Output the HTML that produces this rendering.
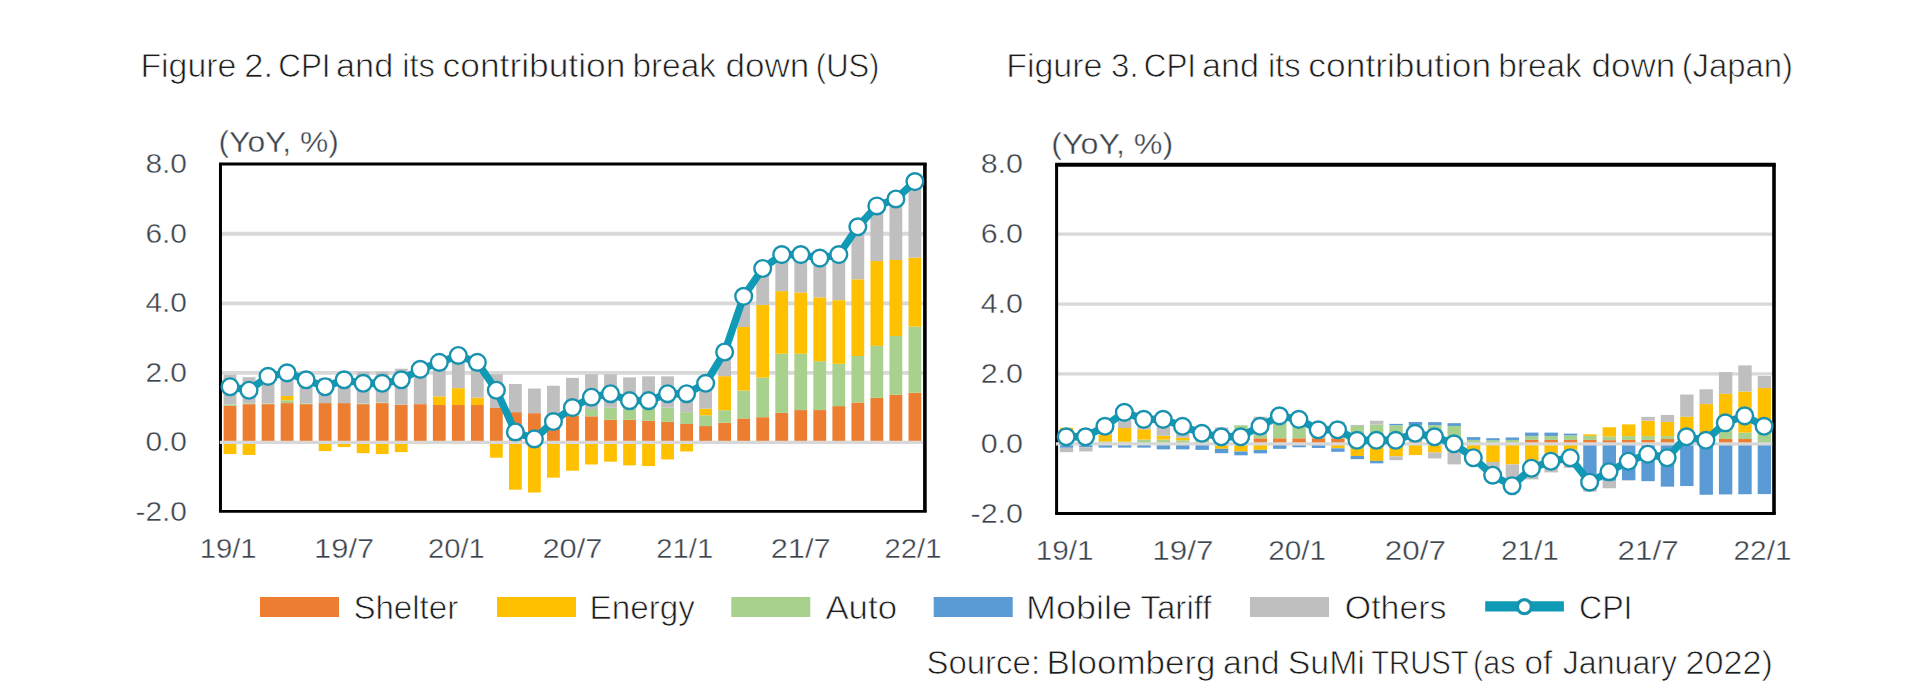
<!DOCTYPE html>
<html lang="en"><head><meta charset="utf-8"><title>CPI and its contribution break down</title>
<style>
html,body{margin:0;padding:0;background:#fff;}
body{width:1920px;height:698px;overflow:hidden;}
svg{display:block;}
text{font-family:"Liberation Sans",Arial,Helvetica,sans-serif;}
.ti{font-size:34px;fill:#1c1c1c;stroke:#fff;stroke-width:0.75px;}
.ax{font-size:27px;fill:#3A424B;stroke:#fff;stroke-width:0.4px;}
.un{font-size:29px;fill:#3A424B;stroke:#fff;stroke-width:0.4px;}
.lg{font-size:34px;fill:#1c1c1c;stroke:#fff;stroke-width:0.75px;}
.src{font-size:33.6px;fill:#1c1c1c;stroke:#fff;stroke-width:0.75px;}
</style></head><body>
<svg width="1920" height="698" viewBox="0 0 1920 698">
<rect width="1920" height="698" fill="#fff"/>
<text y="77.0" class="ti"><tspan x="140.39" textLength="95.93" lengthAdjust="spacingAndGlyphs">Figure</tspan> <tspan x="244.28" textLength="28.75" lengthAdjust="spacingAndGlyphs">2.</tspan> <tspan x="278.23" textLength="52.33" lengthAdjust="spacingAndGlyphs">CPI</tspan> <tspan x="336.03" textLength="57.20" lengthAdjust="spacingAndGlyphs">and</tspan> <tspan x="402.14" textLength="32.64" lengthAdjust="spacingAndGlyphs">its</tspan> <tspan x="442.59" textLength="182.80" lengthAdjust="spacingAndGlyphs">contribution</tspan> <tspan x="632.40" textLength="83.57" lengthAdjust="spacingAndGlyphs">break</tspan> <tspan x="725.50" textLength="83.87" lengthAdjust="spacingAndGlyphs">down</tspan> <tspan x="815.84" textLength="63.60" lengthAdjust="spacingAndGlyphs">(US)</tspan></text>
<text y="77.0" class="ti"><tspan x="1006.18" textLength="96.24" lengthAdjust="spacingAndGlyphs">Figure</tspan> <tspan x="1111.11" textLength="27.48" lengthAdjust="spacingAndGlyphs">3.</tspan> <tspan x="1143.73" textLength="52.33" lengthAdjust="spacingAndGlyphs">CPI</tspan> <tspan x="1202.13" textLength="56.98" lengthAdjust="spacingAndGlyphs">and</tspan> <tspan x="1267.94" textLength="32.64" lengthAdjust="spacingAndGlyphs">its</tspan> <tspan x="1308.39" textLength="182.80" lengthAdjust="spacingAndGlyphs">contribution</tspan> <tspan x="1498.20" textLength="83.57" lengthAdjust="spacingAndGlyphs">break</tspan> <tspan x="1591.50" textLength="83.87" lengthAdjust="spacingAndGlyphs">down</tspan> <tspan x="1681.63" textLength="111.31" lengthAdjust="spacingAndGlyphs">(Japan)</tspan></text>
<g id="c1">
<line x1="220.47" x2="924.9" y1="233.75" y2="233.75" stroke="#D8D8D8" stroke-width="3.8"/>
<line x1="220.47" x2="924.9" y1="303.30" y2="303.30" stroke="#D8D8D8" stroke-width="3.8"/>
<line x1="220.47" x2="924.9" y1="372.85" y2="372.85" stroke="#D8D8D8" stroke-width="3.8"/>
<rect x="223.60" y="405.89" width="12.8" height="36.51" fill="#ED7D31"/>
<rect x="223.60" y="404.50" width="12.8" height="1.39" fill="#A9D18E"/>
<rect x="223.60" y="442.40" width="12.8" height="11.65" fill="#FFC000"/>
<rect x="223.60" y="374.59" width="12.8" height="29.91" fill="#BFBFBF"/>
<rect x="242.63" y="404.15" width="12.8" height="38.25" fill="#ED7D31"/>
<rect x="242.63" y="403.45" width="12.8" height="0.70" fill="#A9D18E"/>
<rect x="242.63" y="442.40" width="12.8" height="12.52" fill="#FFC000"/>
<rect x="242.63" y="377.20" width="12.8" height="26.26" fill="#BFBFBF"/>
<rect x="261.65" y="404.15" width="12.8" height="38.25" fill="#ED7D31"/>
<rect x="261.65" y="403.45" width="12.8" height="0.70" fill="#A9D18E"/>
<rect x="261.65" y="376.33" width="12.8" height="27.12" fill="#BFBFBF"/>
<rect x="280.68" y="403.10" width="12.8" height="39.30" fill="#ED7D31"/>
<rect x="280.68" y="400.32" width="12.8" height="2.78" fill="#A9D18E"/>
<rect x="280.68" y="395.98" width="12.8" height="4.35" fill="#FFC000"/>
<rect x="280.68" y="372.85" width="12.8" height="23.13" fill="#BFBFBF"/>
<rect x="299.70" y="404.15" width="12.8" height="38.25" fill="#ED7D31"/>
<rect x="299.70" y="403.45" width="12.8" height="0.70" fill="#A9D18E"/>
<rect x="299.70" y="379.80" width="12.8" height="23.65" fill="#BFBFBF"/>
<rect x="318.73" y="403.10" width="12.8" height="39.30" fill="#ED7D31"/>
<rect x="318.73" y="442.40" width="12.8" height="8.69" fill="#FFC000"/>
<rect x="318.73" y="378.07" width="12.8" height="25.04" fill="#BFBFBF"/>
<rect x="337.75" y="403.10" width="12.8" height="39.30" fill="#ED7D31"/>
<rect x="337.75" y="442.40" width="12.8" height="4.69" fill="#FFC000"/>
<rect x="337.75" y="375.11" width="12.8" height="27.99" fill="#BFBFBF"/>
<rect x="356.78" y="404.15" width="12.8" height="38.25" fill="#ED7D31"/>
<rect x="356.78" y="403.45" width="12.8" height="0.70" fill="#A9D18E"/>
<rect x="356.78" y="442.40" width="12.8" height="10.78" fill="#FFC000"/>
<rect x="356.78" y="371.81" width="12.8" height="31.65" fill="#BFBFBF"/>
<rect x="375.80" y="403.10" width="12.8" height="39.30" fill="#ED7D31"/>
<rect x="375.80" y="402.41" width="12.8" height="0.70" fill="#A9D18E"/>
<rect x="375.80" y="442.40" width="12.8" height="11.65" fill="#FFC000"/>
<rect x="375.80" y="371.63" width="12.8" height="30.78" fill="#BFBFBF"/>
<rect x="394.83" y="404.67" width="12.8" height="37.73" fill="#ED7D31"/>
<rect x="394.83" y="442.40" width="12.8" height="9.74" fill="#FFC000"/>
<rect x="394.83" y="368.68" width="12.8" height="35.99" fill="#BFBFBF"/>
<rect x="413.85" y="404.15" width="12.8" height="38.25" fill="#ED7D31"/>
<rect x="413.85" y="442.40" width="12.8" height="1.74" fill="#FFC000"/>
<rect x="413.85" y="367.63" width="12.8" height="36.51" fill="#BFBFBF"/>
<rect x="432.88" y="405.02" width="12.8" height="37.38" fill="#ED7D31"/>
<rect x="432.88" y="396.32" width="12.8" height="8.69" fill="#FFC000"/>
<rect x="432.88" y="362.42" width="12.8" height="33.91" fill="#BFBFBF"/>
<rect x="451.90" y="405.02" width="12.8" height="37.38" fill="#ED7D31"/>
<rect x="451.90" y="442.40" width="12.8" height="1.74" fill="#A9D18E"/>
<rect x="451.90" y="388.15" width="12.8" height="16.87" fill="#FFC000"/>
<rect x="451.90" y="353.72" width="12.8" height="34.43" fill="#BFBFBF"/>
<rect x="470.93" y="405.02" width="12.8" height="37.38" fill="#ED7D31"/>
<rect x="470.93" y="397.54" width="12.8" height="7.48" fill="#FFC000"/>
<rect x="470.93" y="362.42" width="12.8" height="35.12" fill="#BFBFBF"/>
<rect x="489.95" y="407.97" width="12.8" height="34.43" fill="#ED7D31"/>
<rect x="489.95" y="442.40" width="12.8" height="15.30" fill="#FFC000"/>
<rect x="489.95" y="374.24" width="12.8" height="33.73" fill="#BFBFBF"/>
<rect x="508.98" y="412.15" width="12.8" height="30.25" fill="#ED7D31"/>
<rect x="508.98" y="442.40" width="12.8" height="47.29" fill="#FFC000"/>
<rect x="508.98" y="383.98" width="12.8" height="28.17" fill="#BFBFBF"/>
<rect x="528.00" y="413.19" width="12.8" height="29.21" fill="#ED7D31"/>
<rect x="528.00" y="442.40" width="12.8" height="50.08" fill="#FFC000"/>
<rect x="528.00" y="388.50" width="12.8" height="24.69" fill="#BFBFBF"/>
<rect x="547.03" y="414.58" width="12.8" height="27.82" fill="#ED7D31"/>
<rect x="547.03" y="442.40" width="12.8" height="35.30" fill="#FFC000"/>
<rect x="547.03" y="385.72" width="12.8" height="28.86" fill="#BFBFBF"/>
<rect x="566.05" y="415.97" width="12.8" height="26.43" fill="#ED7D31"/>
<rect x="566.05" y="414.23" width="12.8" height="1.74" fill="#A9D18E"/>
<rect x="566.05" y="442.40" width="12.8" height="28.34" fill="#FFC000"/>
<rect x="566.05" y="377.89" width="12.8" height="36.34" fill="#BFBFBF"/>
<rect x="585.08" y="416.32" width="12.8" height="26.08" fill="#ED7D31"/>
<rect x="585.08" y="409.02" width="12.8" height="7.30" fill="#A9D18E"/>
<rect x="585.08" y="442.40" width="12.8" height="22.08" fill="#FFC000"/>
<rect x="585.08" y="374.24" width="12.8" height="34.77" fill="#BFBFBF"/>
<rect x="604.10" y="419.80" width="12.8" height="22.60" fill="#ED7D31"/>
<rect x="604.10" y="407.62" width="12.8" height="12.17" fill="#A9D18E"/>
<rect x="604.10" y="442.40" width="12.8" height="19.30" fill="#FFC000"/>
<rect x="604.10" y="374.24" width="12.8" height="33.38" fill="#BFBFBF"/>
<rect x="623.13" y="419.80" width="12.8" height="22.60" fill="#ED7D31"/>
<rect x="623.13" y="409.02" width="12.8" height="10.78" fill="#A9D18E"/>
<rect x="623.13" y="442.40" width="12.8" height="22.95" fill="#FFC000"/>
<rect x="623.13" y="377.37" width="12.8" height="31.65" fill="#BFBFBF"/>
<rect x="642.15" y="420.84" width="12.8" height="21.56" fill="#ED7D31"/>
<rect x="642.15" y="409.02" width="12.8" height="11.82" fill="#A9D18E"/>
<rect x="642.15" y="442.40" width="12.8" height="23.65" fill="#FFC000"/>
<rect x="642.15" y="376.33" width="12.8" height="32.69" fill="#BFBFBF"/>
<rect x="661.18" y="421.88" width="12.8" height="20.52" fill="#ED7D31"/>
<rect x="661.18" y="407.62" width="12.8" height="14.26" fill="#A9D18E"/>
<rect x="661.18" y="442.40" width="12.8" height="17.04" fill="#FFC000"/>
<rect x="661.18" y="376.33" width="12.8" height="31.30" fill="#BFBFBF"/>
<rect x="680.20" y="423.97" width="12.8" height="18.43" fill="#ED7D31"/>
<rect x="680.20" y="412.15" width="12.8" height="11.82" fill="#A9D18E"/>
<rect x="680.20" y="442.40" width="12.8" height="9.04" fill="#FFC000"/>
<rect x="680.20" y="387.46" width="12.8" height="24.69" fill="#BFBFBF"/>
<rect x="699.23" y="426.06" width="12.8" height="16.34" fill="#ED7D31"/>
<rect x="699.23" y="415.28" width="12.8" height="10.78" fill="#A9D18E"/>
<rect x="699.23" y="408.67" width="12.8" height="6.61" fill="#FFC000"/>
<rect x="699.23" y="383.28" width="12.8" height="25.39" fill="#BFBFBF"/>
<rect x="718.25" y="422.75" width="12.8" height="19.65" fill="#ED7D31"/>
<rect x="718.25" y="410.23" width="12.8" height="12.52" fill="#A9D18E"/>
<rect x="718.25" y="376.15" width="12.8" height="34.08" fill="#FFC000"/>
<rect x="718.25" y="351.98" width="12.8" height="24.17" fill="#BFBFBF"/>
<rect x="737.28" y="418.41" width="12.8" height="23.99" fill="#ED7D31"/>
<rect x="737.28" y="390.59" width="12.8" height="27.82" fill="#A9D18E"/>
<rect x="737.28" y="326.95" width="12.8" height="63.64" fill="#FFC000"/>
<rect x="737.28" y="296.34" width="12.8" height="30.60" fill="#BFBFBF"/>
<rect x="756.30" y="417.19" width="12.8" height="25.21" fill="#ED7D31"/>
<rect x="756.30" y="377.54" width="12.8" height="39.64" fill="#A9D18E"/>
<rect x="756.30" y="304.86" width="12.8" height="72.68" fill="#FFC000"/>
<rect x="756.30" y="268.52" width="12.8" height="36.34" fill="#BFBFBF"/>
<rect x="775.33" y="412.84" width="12.8" height="29.56" fill="#ED7D31"/>
<rect x="775.33" y="353.72" width="12.8" height="59.12" fill="#A9D18E"/>
<rect x="775.33" y="291.13" width="12.8" height="62.59" fill="#FFC000"/>
<rect x="775.33" y="254.61" width="12.8" height="36.51" fill="#BFBFBF"/>
<rect x="794.35" y="410.06" width="12.8" height="32.34" fill="#ED7D31"/>
<rect x="794.35" y="353.72" width="12.8" height="56.34" fill="#A9D18E"/>
<rect x="794.35" y="292.52" width="12.8" height="61.20" fill="#FFC000"/>
<rect x="794.35" y="254.61" width="12.8" height="37.90" fill="#BFBFBF"/>
<rect x="813.38" y="410.06" width="12.8" height="32.34" fill="#ED7D31"/>
<rect x="813.38" y="361.20" width="12.8" height="48.86" fill="#A9D18E"/>
<rect x="813.38" y="297.39" width="12.8" height="63.81" fill="#FFC000"/>
<rect x="813.38" y="258.09" width="12.8" height="39.30" fill="#BFBFBF"/>
<rect x="832.40" y="406.13" width="12.8" height="36.27" fill="#ED7D31"/>
<rect x="832.40" y="363.81" width="12.8" height="42.32" fill="#A9D18E"/>
<rect x="832.40" y="300.17" width="12.8" height="63.64" fill="#FFC000"/>
<rect x="832.40" y="254.61" width="12.8" height="45.56" fill="#BFBFBF"/>
<rect x="851.43" y="402.51" width="12.8" height="39.89" fill="#ED7D31"/>
<rect x="851.43" y="355.98" width="12.8" height="46.53" fill="#A9D18E"/>
<rect x="851.43" y="279.31" width="12.8" height="76.68" fill="#FFC000"/>
<rect x="851.43" y="226.79" width="12.8" height="52.51" fill="#BFBFBF"/>
<rect x="870.45" y="397.89" width="12.8" height="44.51" fill="#ED7D31"/>
<rect x="870.45" y="345.90" width="12.8" height="51.99" fill="#A9D18E"/>
<rect x="870.45" y="261.05" width="12.8" height="84.85" fill="#FFC000"/>
<rect x="870.45" y="205.93" width="12.8" height="55.12" fill="#BFBFBF"/>
<rect x="889.48" y="394.76" width="12.8" height="47.64" fill="#ED7D31"/>
<rect x="889.48" y="335.99" width="12.8" height="58.77" fill="#A9D18E"/>
<rect x="889.48" y="260.01" width="12.8" height="75.98" fill="#FFC000"/>
<rect x="889.48" y="198.97" width="12.8" height="61.03" fill="#BFBFBF"/>
<rect x="908.50" y="392.67" width="12.8" height="49.73" fill="#ED7D31"/>
<rect x="908.50" y="326.60" width="12.8" height="66.07" fill="#A9D18E"/>
<rect x="908.50" y="257.57" width="12.8" height="69.03" fill="#FFC000"/>
<rect x="908.50" y="181.59" width="12.8" height="75.98" fill="#BFBFBF"/>
<line x1="218.97" x2="926.6999999999999" y1="163.95" y2="163.95" stroke="#000" stroke-width="3.0"/>
<line x1="218.97" x2="926.6999999999999" y1="511.4" y2="511.4" stroke="#000" stroke-width="2.8"/>
<line x1="220.47" x2="220.47" y1="163.95" y2="511.4" stroke="#000" stroke-width="3.0"/>
<line x1="924.9" x2="924.9" y1="163.95" y2="511.4" stroke="#000" stroke-width="3.6"/>
<line x1="219.77" x2="923.1" y1="442.40" y2="442.40" stroke="#D8D8D8" stroke-width="3.2"/>
<polyline fill="none" stroke="#0F9AB5" stroke-width="7.4" stroke-linejoin="round" points="230.00,386.76 249.03,390.24 268.05,376.33 287.08,372.85 306.10,379.80 325.13,386.76 344.15,379.80 363.18,383.28 382.20,383.28 401.23,379.80 420.25,369.37 439.28,362.42 458.30,355.46 477.33,362.42 496.35,390.24 515.38,431.97 534.40,438.92 553.43,421.53 572.45,407.62 591.48,397.19 610.50,393.71 629.53,400.67 648.55,400.67 667.58,393.71 686.60,393.71 705.63,383.28 724.65,351.98 743.68,296.34 762.70,268.52 781.73,254.61 800.75,254.61 819.78,258.09 838.80,254.61 857.83,226.79 876.85,205.93 895.88,198.97 914.90,181.59"/>
<circle cx="230.00" cy="386.76" r="8.35" fill="#fff" stroke="#1892AE" stroke-width="2.4"/>
<circle cx="249.03" cy="390.24" r="8.35" fill="#fff" stroke="#1892AE" stroke-width="2.4"/>
<circle cx="268.05" cy="376.33" r="8.35" fill="#fff" stroke="#1892AE" stroke-width="2.4"/>
<circle cx="287.08" cy="372.85" r="8.35" fill="#fff" stroke="#1892AE" stroke-width="2.4"/>
<circle cx="306.10" cy="379.80" r="8.35" fill="#fff" stroke="#1892AE" stroke-width="2.4"/>
<circle cx="325.13" cy="386.76" r="8.35" fill="#fff" stroke="#1892AE" stroke-width="2.4"/>
<circle cx="344.15" cy="379.80" r="8.35" fill="#fff" stroke="#1892AE" stroke-width="2.4"/>
<circle cx="363.18" cy="383.28" r="8.35" fill="#fff" stroke="#1892AE" stroke-width="2.4"/>
<circle cx="382.20" cy="383.28" r="8.35" fill="#fff" stroke="#1892AE" stroke-width="2.4"/>
<circle cx="401.23" cy="379.80" r="8.35" fill="#fff" stroke="#1892AE" stroke-width="2.4"/>
<circle cx="420.25" cy="369.37" r="8.35" fill="#fff" stroke="#1892AE" stroke-width="2.4"/>
<circle cx="439.28" cy="362.42" r="8.35" fill="#fff" stroke="#1892AE" stroke-width="2.4"/>
<circle cx="458.30" cy="355.46" r="8.35" fill="#fff" stroke="#1892AE" stroke-width="2.4"/>
<circle cx="477.33" cy="362.42" r="8.35" fill="#fff" stroke="#1892AE" stroke-width="2.4"/>
<circle cx="496.35" cy="390.24" r="8.35" fill="#fff" stroke="#1892AE" stroke-width="2.4"/>
<circle cx="515.38" cy="431.97" r="8.35" fill="#fff" stroke="#1892AE" stroke-width="2.4"/>
<circle cx="534.40" cy="438.92" r="8.35" fill="#fff" stroke="#1892AE" stroke-width="2.4"/>
<circle cx="553.43" cy="421.53" r="8.35" fill="#fff" stroke="#1892AE" stroke-width="2.4"/>
<circle cx="572.45" cy="407.62" r="8.35" fill="#fff" stroke="#1892AE" stroke-width="2.4"/>
<circle cx="591.48" cy="397.19" r="8.35" fill="#fff" stroke="#1892AE" stroke-width="2.4"/>
<circle cx="610.50" cy="393.71" r="8.35" fill="#fff" stroke="#1892AE" stroke-width="2.4"/>
<circle cx="629.53" cy="400.67" r="8.35" fill="#fff" stroke="#1892AE" stroke-width="2.4"/>
<circle cx="648.55" cy="400.67" r="8.35" fill="#fff" stroke="#1892AE" stroke-width="2.4"/>
<circle cx="667.58" cy="393.71" r="8.35" fill="#fff" stroke="#1892AE" stroke-width="2.4"/>
<circle cx="686.60" cy="393.71" r="8.35" fill="#fff" stroke="#1892AE" stroke-width="2.4"/>
<circle cx="705.63" cy="383.28" r="8.35" fill="#fff" stroke="#1892AE" stroke-width="2.4"/>
<circle cx="724.65" cy="351.98" r="8.35" fill="#fff" stroke="#1892AE" stroke-width="2.4"/>
<circle cx="743.68" cy="296.34" r="8.35" fill="#fff" stroke="#1892AE" stroke-width="2.4"/>
<circle cx="762.70" cy="268.52" r="8.35" fill="#fff" stroke="#1892AE" stroke-width="2.4"/>
<circle cx="781.73" cy="254.61" r="8.35" fill="#fff" stroke="#1892AE" stroke-width="2.4"/>
<circle cx="800.75" cy="254.61" r="8.35" fill="#fff" stroke="#1892AE" stroke-width="2.4"/>
<circle cx="819.78" cy="258.09" r="8.35" fill="#fff" stroke="#1892AE" stroke-width="2.4"/>
<circle cx="838.80" cy="254.61" r="8.35" fill="#fff" stroke="#1892AE" stroke-width="2.4"/>
<circle cx="857.83" cy="226.79" r="8.35" fill="#fff" stroke="#1892AE" stroke-width="2.4"/>
<circle cx="876.85" cy="205.93" r="8.35" fill="#fff" stroke="#1892AE" stroke-width="2.4"/>
<circle cx="895.88" cy="198.97" r="8.35" fill="#fff" stroke="#1892AE" stroke-width="2.4"/>
<circle cx="914.90" cy="181.59" r="8.35" fill="#fff" stroke="#1892AE" stroke-width="2.4"/>
<text transform="translate(187.0 173.20) scale(1.08 1)" text-anchor="end" class="ax" style="font-size:27.7px">8.0</text>
<text transform="translate(187.0 242.75) scale(1.08 1)" text-anchor="end" class="ax" style="font-size:27.7px">6.0</text>
<text transform="translate(187.0 312.30) scale(1.08 1)" text-anchor="end" class="ax" style="font-size:27.7px">4.0</text>
<text transform="translate(187.0 381.85) scale(1.08 1)" text-anchor="end" class="ax" style="font-size:27.7px">2.0</text>
<text transform="translate(187.0 451.40) scale(1.08 1)" text-anchor="end" class="ax" style="font-size:27.7px">0.0</text>
<text transform="translate(187.0 520.95) scale(1.08 1)" text-anchor="end" class="ax" style="font-size:27.7px">-2.0</text>
<text transform="translate(228.10 557.8) scale(1.055 1)" text-anchor="middle" class="ax" style="font-size:27.7px">19/1</text>
<text transform="translate(344.15 557.8) scale(1.115 1)" text-anchor="middle" class="ax" style="font-size:27.7px">19/7</text>
<text transform="translate(456.40 557.8) scale(1.055 1)" text-anchor="middle" class="ax" style="font-size:27.7px">20/1</text>
<text transform="translate(572.45 557.8) scale(1.115 1)" text-anchor="middle" class="ax" style="font-size:27.7px">20/7</text>
<text transform="translate(684.70 557.8) scale(1.055 1)" text-anchor="middle" class="ax" style="font-size:27.7px">21/1</text>
<text transform="translate(800.75 557.8) scale(1.115 1)" text-anchor="middle" class="ax" style="font-size:27.7px">21/7</text>
<text transform="translate(913.00 557.8) scale(1.055 1)" text-anchor="middle" class="ax" style="font-size:27.7px">22/1</text>
<text transform="translate(218.5 152.4) scale(1.065 1)" class="un" style="font-size:29.9px">(YoY, %)</text>
</g>
<g id="c2">
<line x1="1056.6" x2="1774.0" y1="234.20" y2="234.20" stroke="#D8D8D8" stroke-width="3.3"/>
<line x1="1056.6" x2="1774.0" y1="304.06" y2="304.06" stroke="#D8D8D8" stroke-width="3.3"/>
<line x1="1056.6" x2="1774.0" y1="373.92" y2="373.92" stroke="#D8D8D8" stroke-width="3.3"/>
<rect x="1059.79" y="441.68" width="13.4" height="2.10" fill="#A9D18E"/>
<rect x="1059.79" y="427.71" width="13.4" height="13.97" fill="#FFC000"/>
<rect x="1059.79" y="443.78" width="13.4" height="4.02" fill="#5B9BD5"/>
<rect x="1059.79" y="447.80" width="13.4" height="4.37" fill="#BFBFBF"/>
<rect x="1079.18" y="441.68" width="13.4" height="2.10" fill="#A9D18E"/>
<rect x="1079.18" y="429.11" width="13.4" height="12.57" fill="#FFC000"/>
<rect x="1079.18" y="443.78" width="13.4" height="3.49" fill="#5B9BD5"/>
<rect x="1079.18" y="447.27" width="13.4" height="4.19" fill="#BFBFBF"/>
<rect x="1098.56" y="441.33" width="13.4" height="2.45" fill="#A9D18E"/>
<rect x="1098.56" y="434.35" width="13.4" height="6.99" fill="#FFC000"/>
<rect x="1098.56" y="422.47" width="13.4" height="11.88" fill="#BFBFBF"/>
<rect x="1098.56" y="443.78" width="13.4" height="3.84" fill="#5B9BD5"/>
<rect x="1117.95" y="441.68" width="13.4" height="2.10" fill="#A9D18E"/>
<rect x="1117.95" y="428.06" width="13.4" height="13.62" fill="#FFC000"/>
<rect x="1117.95" y="408.50" width="13.4" height="19.56" fill="#BFBFBF"/>
<rect x="1117.95" y="443.78" width="13.4" height="3.84" fill="#5B9BD5"/>
<rect x="1137.34" y="439.59" width="13.4" height="4.19" fill="#A9D18E"/>
<rect x="1137.34" y="429.28" width="13.4" height="10.30" fill="#FFC000"/>
<rect x="1137.34" y="415.49" width="13.4" height="13.80" fill="#BFBFBF"/>
<rect x="1137.34" y="443.78" width="13.4" height="3.84" fill="#5B9BD5"/>
<rect x="1156.72" y="439.59" width="13.4" height="4.19" fill="#A9D18E"/>
<rect x="1156.72" y="435.75" width="13.4" height="3.84" fill="#FFC000"/>
<rect x="1156.72" y="413.74" width="13.4" height="22.01" fill="#BFBFBF"/>
<rect x="1156.72" y="443.78" width="13.4" height="5.59" fill="#5B9BD5"/>
<rect x="1176.11" y="440.29" width="13.4" height="3.49" fill="#A9D18E"/>
<rect x="1176.11" y="437.84" width="13.4" height="2.45" fill="#FFC000"/>
<rect x="1176.11" y="420.73" width="13.4" height="17.12" fill="#BFBFBF"/>
<rect x="1176.11" y="443.78" width="13.4" height="5.59" fill="#5B9BD5"/>
<rect x="1195.49" y="440.29" width="13.4" height="3.49" fill="#A9D18E"/>
<rect x="1195.49" y="438.54" width="13.4" height="1.75" fill="#FFC000"/>
<rect x="1195.49" y="427.19" width="13.4" height="11.35" fill="#BFBFBF"/>
<rect x="1195.49" y="443.78" width="13.4" height="6.11" fill="#5B9BD5"/>
<rect x="1214.88" y="438.54" width="13.4" height="5.24" fill="#A9D18E"/>
<rect x="1214.88" y="427.36" width="13.4" height="11.18" fill="#BFBFBF"/>
<rect x="1214.88" y="443.78" width="13.4" height="5.06" fill="#FFC000"/>
<rect x="1214.88" y="448.84" width="13.4" height="4.37" fill="#5B9BD5"/>
<rect x="1234.27" y="436.79" width="13.4" height="6.99" fill="#BFBFBF"/>
<rect x="1234.27" y="425.27" width="13.4" height="11.53" fill="#A9D18E"/>
<rect x="1234.27" y="443.78" width="13.4" height="7.68" fill="#FFC000"/>
<rect x="1234.27" y="451.46" width="13.4" height="3.84" fill="#5B9BD5"/>
<rect x="1253.65" y="438.30" width="13.4" height="5.48" fill="#ED7D31"/>
<rect x="1253.65" y="435.15" width="13.4" height="3.14" fill="#A9D18E"/>
<rect x="1253.65" y="416.71" width="13.4" height="18.44" fill="#BFBFBF"/>
<rect x="1253.65" y="443.78" width="13.4" height="6.11" fill="#FFC000"/>
<rect x="1253.65" y="449.89" width="13.4" height="3.49" fill="#5B9BD5"/>
<rect x="1273.04" y="438.30" width="13.4" height="5.48" fill="#ED7D31"/>
<rect x="1273.04" y="422.58" width="13.4" height="15.72" fill="#A9D18E"/>
<rect x="1273.04" y="410.77" width="13.4" height="11.81" fill="#BFBFBF"/>
<rect x="1273.04" y="443.78" width="13.4" height="5.06" fill="#5B9BD5"/>
<rect x="1292.42" y="438.30" width="13.4" height="5.48" fill="#ED7D31"/>
<rect x="1292.42" y="424.32" width="13.4" height="13.97" fill="#A9D18E"/>
<rect x="1292.42" y="415.84" width="13.4" height="8.49" fill="#BFBFBF"/>
<rect x="1292.42" y="443.78" width="13.4" height="3.49" fill="#5B9BD5"/>
<rect x="1311.81" y="438.30" width="13.4" height="5.48" fill="#ED7D31"/>
<rect x="1311.81" y="429.56" width="13.4" height="8.73" fill="#A9D18E"/>
<rect x="1311.81" y="425.62" width="13.4" height="3.95" fill="#BFBFBF"/>
<rect x="1311.81" y="443.78" width="13.4" height="4.19" fill="#5B9BD5"/>
<rect x="1331.20" y="438.30" width="13.4" height="5.48" fill="#ED7D31"/>
<rect x="1331.20" y="427.82" width="13.4" height="10.48" fill="#A9D18E"/>
<rect x="1331.20" y="421.77" width="13.4" height="6.04" fill="#BFBFBF"/>
<rect x="1331.20" y="443.78" width="13.4" height="4.54" fill="#FFC000"/>
<rect x="1331.20" y="448.32" width="13.4" height="3.49" fill="#5B9BD5"/>
<rect x="1350.58" y="442.03" width="13.4" height="1.75" fill="#ED7D31"/>
<rect x="1350.58" y="425.97" width="13.4" height="16.07" fill="#A9D18E"/>
<rect x="1350.58" y="424.92" width="13.4" height="1.05" fill="#BFBFBF"/>
<rect x="1350.58" y="443.78" width="13.4" height="12.23" fill="#FFC000"/>
<rect x="1350.58" y="456.01" width="13.4" height="3.14" fill="#5B9BD5"/>
<rect x="1369.97" y="442.03" width="13.4" height="1.75" fill="#ED7D31"/>
<rect x="1369.97" y="424.57" width="13.4" height="17.46" fill="#A9D18E"/>
<rect x="1369.97" y="420.73" width="13.4" height="3.84" fill="#BFBFBF"/>
<rect x="1369.97" y="443.78" width="13.4" height="17.12" fill="#FFC000"/>
<rect x="1369.97" y="460.90" width="13.4" height="2.45" fill="#5B9BD5"/>
<rect x="1389.35" y="442.03" width="13.4" height="1.75" fill="#ED7D31"/>
<rect x="1389.35" y="425.27" width="13.4" height="16.77" fill="#A9D18E"/>
<rect x="1389.35" y="423.87" width="13.4" height="1.40" fill="#5B9BD5"/>
<rect x="1389.35" y="443.78" width="13.4" height="12.57" fill="#FFC000"/>
<rect x="1389.35" y="456.35" width="13.4" height="3.84" fill="#BFBFBF"/>
<rect x="1408.74" y="442.03" width="13.4" height="1.75" fill="#ED7D31"/>
<rect x="1408.74" y="425.09" width="13.4" height="16.94" fill="#A9D18E"/>
<rect x="1408.74" y="421.95" width="13.4" height="3.14" fill="#5B9BD5"/>
<rect x="1408.74" y="443.78" width="13.4" height="11.18" fill="#FFC000"/>
<rect x="1408.74" y="454.96" width="13.4" height="0.17" fill="#BFBFBF"/>
<rect x="1428.13" y="442.03" width="13.4" height="1.75" fill="#ED7D31"/>
<rect x="1428.13" y="425.09" width="13.4" height="16.94" fill="#A9D18E"/>
<rect x="1428.13" y="422.12" width="13.4" height="2.97" fill="#5B9BD5"/>
<rect x="1428.13" y="443.78" width="13.4" height="8.73" fill="#FFC000"/>
<rect x="1428.13" y="452.51" width="13.4" height="5.94" fill="#BFBFBF"/>
<rect x="1447.51" y="442.38" width="13.4" height="1.40" fill="#ED7D31"/>
<rect x="1447.51" y="425.97" width="13.4" height="16.42" fill="#A9D18E"/>
<rect x="1447.51" y="423.17" width="13.4" height="2.79" fill="#5B9BD5"/>
<rect x="1447.51" y="443.78" width="13.4" height="8.38" fill="#FFC000"/>
<rect x="1447.51" y="452.16" width="13.4" height="12.23" fill="#BFBFBF"/>
<rect x="1466.90" y="439.94" width="13.4" height="3.84" fill="#A9D18E"/>
<rect x="1466.90" y="437.14" width="13.4" height="2.79" fill="#5B9BD5"/>
<rect x="1466.90" y="443.78" width="13.4" height="15.72" fill="#FFC000"/>
<rect x="1466.90" y="459.50" width="13.4" height="4.89" fill="#BFBFBF"/>
<rect x="1486.28" y="440.29" width="13.4" height="3.49" fill="#A9D18E"/>
<rect x="1486.28" y="438.19" width="13.4" height="2.10" fill="#5B9BD5"/>
<rect x="1486.28" y="443.78" width="13.4" height="18.16" fill="#FFC000"/>
<rect x="1486.28" y="461.94" width="13.4" height="18.86" fill="#BFBFBF"/>
<rect x="1505.67" y="439.94" width="13.4" height="3.84" fill="#A9D18E"/>
<rect x="1505.67" y="437.49" width="13.4" height="2.45" fill="#5B9BD5"/>
<rect x="1505.67" y="443.78" width="13.4" height="20.61" fill="#FFC000"/>
<rect x="1505.67" y="464.39" width="13.4" height="27.59" fill="#BFBFBF"/>
<rect x="1525.06" y="439.94" width="13.4" height="3.84" fill="#ED7D31"/>
<rect x="1525.06" y="435.92" width="13.4" height="4.02" fill="#A9D18E"/>
<rect x="1525.06" y="432.60" width="13.4" height="3.32" fill="#5B9BD5"/>
<rect x="1525.06" y="443.78" width="13.4" height="17.46" fill="#FFC000"/>
<rect x="1525.06" y="461.24" width="13.4" height="18.16" fill="#BFBFBF"/>
<rect x="1544.44" y="439.94" width="13.4" height="3.84" fill="#ED7D31"/>
<rect x="1544.44" y="435.92" width="13.4" height="4.02" fill="#A9D18E"/>
<rect x="1544.44" y="432.60" width="13.4" height="3.32" fill="#5B9BD5"/>
<rect x="1544.44" y="443.78" width="13.4" height="9.43" fill="#FFC000"/>
<rect x="1544.44" y="453.21" width="13.4" height="19.21" fill="#BFBFBF"/>
<rect x="1563.83" y="439.94" width="13.4" height="3.84" fill="#ED7D31"/>
<rect x="1563.83" y="435.40" width="13.4" height="4.54" fill="#A9D18E"/>
<rect x="1563.83" y="433.65" width="13.4" height="1.75" fill="#5B9BD5"/>
<rect x="1563.83" y="443.78" width="13.4" height="5.94" fill="#FFC000"/>
<rect x="1563.83" y="449.72" width="13.4" height="18.16" fill="#BFBFBF"/>
<rect x="1583.21" y="439.94" width="13.4" height="3.84" fill="#ED7D31"/>
<rect x="1583.21" y="435.92" width="13.4" height="4.02" fill="#A9D18E"/>
<rect x="1583.21" y="434.35" width="13.4" height="1.57" fill="#FFC000"/>
<rect x="1583.21" y="443.78" width="13.4" height="41.92" fill="#5B9BD5"/>
<rect x="1583.21" y="485.70" width="13.4" height="5.94" fill="#BFBFBF"/>
<rect x="1602.60" y="440.15" width="13.4" height="3.63" fill="#ED7D31"/>
<rect x="1602.60" y="436.44" width="13.4" height="3.70" fill="#A9D18E"/>
<rect x="1602.60" y="427.26" width="13.4" height="9.19" fill="#FFC000"/>
<rect x="1602.60" y="443.78" width="13.4" height="37.03" fill="#5B9BD5"/>
<rect x="1602.60" y="480.81" width="13.4" height="7.44" fill="#BFBFBF"/>
<rect x="1621.99" y="439.94" width="13.4" height="3.84" fill="#ED7D31"/>
<rect x="1621.99" y="436.10" width="13.4" height="3.84" fill="#A9D18E"/>
<rect x="1621.99" y="424.39" width="13.4" height="11.70" fill="#FFC000"/>
<rect x="1621.99" y="443.78" width="13.4" height="36.33" fill="#5B9BD5"/>
<rect x="1621.99" y="480.11" width="13.4" height="0.52" fill="#BFBFBF"/>
<rect x="1641.37" y="439.94" width="13.4" height="3.84" fill="#ED7D31"/>
<rect x="1641.37" y="436.10" width="13.4" height="3.84" fill="#A9D18E"/>
<rect x="1641.37" y="420.73" width="13.4" height="15.37" fill="#FFC000"/>
<rect x="1641.37" y="416.88" width="13.4" height="3.84" fill="#BFBFBF"/>
<rect x="1641.37" y="443.78" width="13.4" height="37.38" fill="#5B9BD5"/>
<rect x="1660.76" y="439.03" width="13.4" height="4.75" fill="#ED7D31"/>
<rect x="1660.76" y="436.10" width="13.4" height="2.93" fill="#A9D18E"/>
<rect x="1660.76" y="421.91" width="13.4" height="14.18" fill="#FFC000"/>
<rect x="1660.76" y="414.89" width="13.4" height="7.02" fill="#BFBFBF"/>
<rect x="1660.76" y="443.78" width="13.4" height="42.86" fill="#5B9BD5"/>
<rect x="1680.14" y="439.03" width="13.4" height="4.75" fill="#ED7D31"/>
<rect x="1680.14" y="435.54" width="13.4" height="3.49" fill="#A9D18E"/>
<rect x="1680.14" y="416.81" width="13.4" height="18.72" fill="#FFC000"/>
<rect x="1680.14" y="394.53" width="13.4" height="22.29" fill="#BFBFBF"/>
<rect x="1680.14" y="443.78" width="13.4" height="42.27" fill="#5B9BD5"/>
<rect x="1699.53" y="439.03" width="13.4" height="4.75" fill="#ED7D31"/>
<rect x="1699.53" y="434.84" width="13.4" height="4.19" fill="#A9D18E"/>
<rect x="1699.53" y="404.10" width="13.4" height="30.74" fill="#FFC000"/>
<rect x="1699.53" y="389.29" width="13.4" height="14.81" fill="#BFBFBF"/>
<rect x="1699.53" y="443.78" width="13.4" height="51.00" fill="#5B9BD5"/>
<rect x="1718.92" y="439.03" width="13.4" height="4.75" fill="#ED7D31"/>
<rect x="1718.92" y="430.26" width="13.4" height="8.77" fill="#A9D18E"/>
<rect x="1718.92" y="393.83" width="13.4" height="36.43" fill="#FFC000"/>
<rect x="1718.92" y="372.17" width="13.4" height="21.66" fill="#BFBFBF"/>
<rect x="1718.92" y="443.78" width="13.4" height="50.65" fill="#5B9BD5"/>
<rect x="1738.30" y="439.03" width="13.4" height="4.75" fill="#ED7D31"/>
<rect x="1738.30" y="432.60" width="13.4" height="6.43" fill="#A9D18E"/>
<rect x="1738.30" y="391.59" width="13.4" height="41.01" fill="#FFC000"/>
<rect x="1738.30" y="365.36" width="13.4" height="26.23" fill="#BFBFBF"/>
<rect x="1738.30" y="443.78" width="13.4" height="50.47" fill="#5B9BD5"/>
<rect x="1757.69" y="431.55" width="13.4" height="12.23" fill="#A9D18E"/>
<rect x="1757.69" y="388.07" width="13.4" height="43.49" fill="#FFC000"/>
<rect x="1757.69" y="376.02" width="13.4" height="12.05" fill="#BFBFBF"/>
<rect x="1757.69" y="443.78" width="13.4" height="50.30" fill="#5B9BD5"/>
<line x1="1055.1" x2="1775.8" y1="164.65" y2="164.65" stroke="#000" stroke-width="4.0"/>
<line x1="1055.1" x2="1775.8" y1="513.6" y2="513.6" stroke="#000" stroke-width="3.0"/>
<line x1="1056.6" x2="1056.6" y1="164.65" y2="513.6" stroke="#000" stroke-width="3.0"/>
<line x1="1774.0" x2="1774.0" y1="164.65" y2="513.6" stroke="#000" stroke-width="3.6"/>
<line x1="1055.8999999999999" x2="1772.2" y1="443.78" y2="443.78" stroke="#D8D8D8" stroke-width="3.2"/>
<polyline fill="none" stroke="#0F9AB5" stroke-width="7.4" stroke-linejoin="round" points="1066.19,436.79 1085.58,436.79 1104.96,426.31 1124.35,412.34 1143.74,419.33 1163.12,419.33 1182.51,426.31 1201.89,433.30 1221.28,436.79 1240.67,436.79 1260.05,426.31 1279.44,415.84 1298.83,419.33 1318.21,429.81 1337.60,429.81 1356.98,440.29 1376.37,440.29 1395.75,440.29 1415.14,433.30 1434.53,436.79 1453.91,443.78 1473.30,457.75 1492.68,475.22 1512.07,485.70 1531.46,468.23 1550.84,461.24 1570.23,457.75 1589.62,482.20 1609.00,471.72 1628.39,461.24 1647.77,454.26 1667.16,457.75 1686.54,436.79 1705.93,440.29 1725.32,422.82 1744.70,415.84 1764.09,426.31"/>
<circle cx="1066.19" cy="436.79" r="8.35" fill="#fff" stroke="#1892AE" stroke-width="2.4"/>
<circle cx="1085.58" cy="436.79" r="8.35" fill="#fff" stroke="#1892AE" stroke-width="2.4"/>
<circle cx="1104.96" cy="426.31" r="8.35" fill="#fff" stroke="#1892AE" stroke-width="2.4"/>
<circle cx="1124.35" cy="412.34" r="8.35" fill="#fff" stroke="#1892AE" stroke-width="2.4"/>
<circle cx="1143.74" cy="419.33" r="8.35" fill="#fff" stroke="#1892AE" stroke-width="2.4"/>
<circle cx="1163.12" cy="419.33" r="8.35" fill="#fff" stroke="#1892AE" stroke-width="2.4"/>
<circle cx="1182.51" cy="426.31" r="8.35" fill="#fff" stroke="#1892AE" stroke-width="2.4"/>
<circle cx="1201.89" cy="433.30" r="8.35" fill="#fff" stroke="#1892AE" stroke-width="2.4"/>
<circle cx="1221.28" cy="436.79" r="8.35" fill="#fff" stroke="#1892AE" stroke-width="2.4"/>
<circle cx="1240.67" cy="436.79" r="8.35" fill="#fff" stroke="#1892AE" stroke-width="2.4"/>
<circle cx="1260.05" cy="426.31" r="8.35" fill="#fff" stroke="#1892AE" stroke-width="2.4"/>
<circle cx="1279.44" cy="415.84" r="8.35" fill="#fff" stroke="#1892AE" stroke-width="2.4"/>
<circle cx="1298.83" cy="419.33" r="8.35" fill="#fff" stroke="#1892AE" stroke-width="2.4"/>
<circle cx="1318.21" cy="429.81" r="8.35" fill="#fff" stroke="#1892AE" stroke-width="2.4"/>
<circle cx="1337.60" cy="429.81" r="8.35" fill="#fff" stroke="#1892AE" stroke-width="2.4"/>
<circle cx="1356.98" cy="440.29" r="8.35" fill="#fff" stroke="#1892AE" stroke-width="2.4"/>
<circle cx="1376.37" cy="440.29" r="8.35" fill="#fff" stroke="#1892AE" stroke-width="2.4"/>
<circle cx="1395.75" cy="440.29" r="8.35" fill="#fff" stroke="#1892AE" stroke-width="2.4"/>
<circle cx="1415.14" cy="433.30" r="8.35" fill="#fff" stroke="#1892AE" stroke-width="2.4"/>
<circle cx="1434.53" cy="436.79" r="8.35" fill="#fff" stroke="#1892AE" stroke-width="2.4"/>
<circle cx="1453.91" cy="443.78" r="8.35" fill="#fff" stroke="#1892AE" stroke-width="2.4"/>
<circle cx="1473.30" cy="457.75" r="8.35" fill="#fff" stroke="#1892AE" stroke-width="2.4"/>
<circle cx="1492.68" cy="475.22" r="8.35" fill="#fff" stroke="#1892AE" stroke-width="2.4"/>
<circle cx="1512.07" cy="485.70" r="8.35" fill="#fff" stroke="#1892AE" stroke-width="2.4"/>
<circle cx="1531.46" cy="468.23" r="8.35" fill="#fff" stroke="#1892AE" stroke-width="2.4"/>
<circle cx="1550.84" cy="461.24" r="8.35" fill="#fff" stroke="#1892AE" stroke-width="2.4"/>
<circle cx="1570.23" cy="457.75" r="8.35" fill="#fff" stroke="#1892AE" stroke-width="2.4"/>
<circle cx="1589.62" cy="482.20" r="8.35" fill="#fff" stroke="#1892AE" stroke-width="2.4"/>
<circle cx="1609.00" cy="471.72" r="8.35" fill="#fff" stroke="#1892AE" stroke-width="2.4"/>
<circle cx="1628.39" cy="461.24" r="8.35" fill="#fff" stroke="#1892AE" stroke-width="2.4"/>
<circle cx="1647.77" cy="454.26" r="8.35" fill="#fff" stroke="#1892AE" stroke-width="2.4"/>
<circle cx="1667.16" cy="457.75" r="8.35" fill="#fff" stroke="#1892AE" stroke-width="2.4"/>
<circle cx="1686.54" cy="436.79" r="8.35" fill="#fff" stroke="#1892AE" stroke-width="2.4"/>
<circle cx="1705.93" cy="440.29" r="8.35" fill="#fff" stroke="#1892AE" stroke-width="2.4"/>
<circle cx="1725.32" cy="422.82" r="8.35" fill="#fff" stroke="#1892AE" stroke-width="2.4"/>
<circle cx="1744.70" cy="415.84" r="8.35" fill="#fff" stroke="#1892AE" stroke-width="2.4"/>
<circle cx="1764.09" cy="426.31" r="8.35" fill="#fff" stroke="#1892AE" stroke-width="2.4"/>
<text transform="translate(1023.0 173.34) scale(1.08 1)" text-anchor="end" class="ax" style="font-size:28.2px">8.0</text>
<text transform="translate(1023.0 243.20) scale(1.08 1)" text-anchor="end" class="ax" style="font-size:28.2px">6.0</text>
<text transform="translate(1023.0 313.06) scale(1.08 1)" text-anchor="end" class="ax" style="font-size:28.2px">4.0</text>
<text transform="translate(1023.0 382.92) scale(1.08 1)" text-anchor="end" class="ax" style="font-size:28.2px">2.0</text>
<text transform="translate(1023.0 452.78) scale(1.08 1)" text-anchor="end" class="ax" style="font-size:28.2px">0.0</text>
<text transform="translate(1023.0 522.64) scale(1.08 1)" text-anchor="end" class="ax" style="font-size:28.2px">-2.0</text>
<text transform="translate(1064.59 559.5) scale(1.055 1)" text-anchor="middle" class="ax" style="font-size:28.2px">19/1</text>
<text transform="translate(1182.81 559.5) scale(1.115 1)" text-anchor="middle" class="ax" style="font-size:28.2px">19/7</text>
<text transform="translate(1297.22 559.5) scale(1.055 1)" text-anchor="middle" class="ax" style="font-size:28.2px">20/1</text>
<text transform="translate(1415.44 559.5) scale(1.115 1)" text-anchor="middle" class="ax" style="font-size:28.2px">20/7</text>
<text transform="translate(1529.86 559.5) scale(1.055 1)" text-anchor="middle" class="ax" style="font-size:28.2px">21/1</text>
<text transform="translate(1648.07 559.5) scale(1.115 1)" text-anchor="middle" class="ax" style="font-size:28.2px">21/7</text>
<text transform="translate(1762.49 559.5) scale(1.055 1)" text-anchor="middle" class="ax" style="font-size:28.2px">22/1</text>
<text transform="translate(1051.3 153.6) scale(1.065 1)" class="un" style="font-size:30.3px">(YoY, %)</text>
</g>
<g id="legend">
<rect x="260" y="597" width="79" height="20" fill="#ED7D31"/>
<rect x="497" y="597" width="79" height="20" fill="#FFC000"/>
<rect x="731.3" y="597" width="79" height="20" fill="#A9D18E"/>
<rect x="933.7" y="597" width="79" height="20" fill="#5B9BD5"/>
<rect x="1250" y="597" width="79" height="20" fill="#BFBFBF"/>
<line x1="1485.2" x2="1563.9" y1="606.4" y2="606.4" stroke="#0F9AB5" stroke-width="10.4"/>
<circle cx="1524.4" cy="606.7" r="7.0" fill="#fff" stroke="#1892AE" stroke-width="3.3"/>
<text y="619.1" class="lg"><tspan x="353.38" textLength="104.85" lengthAdjust="spacingAndGlyphs">Shelter</tspan></text>
<text y="619.1" class="lg"><tspan x="589.54" textLength="105.26" lengthAdjust="spacingAndGlyphs">Energy</tspan></text>
<text y="619.1" class="lg"><tspan x="825.40" textLength="71.66" lengthAdjust="spacingAndGlyphs">Auto</tspan></text>
<text y="619.1" class="lg"><tspan x="1344.85" textLength="101.57" lengthAdjust="spacingAndGlyphs">Others</tspan></text>
<text y="619.1" class="lg"><tspan x="1578.99" textLength="53.53" lengthAdjust="spacingAndGlyphs">CPI</tspan></text>
<text y="619.1" class="lg"><tspan x="1026.02" textLength="105.98" lengthAdjust="spacingAndGlyphs">Mobile</tspan> <tspan x="1140.44" textLength="71.09" lengthAdjust="spacingAndGlyphs">Tariff</tspan></text>
</g>
<text y="674.3" class="src"><tspan x="926.38" textLength="113.72" lengthAdjust="spacingAndGlyphs">Source:</tspan> <tspan x="1046.40" textLength="169.16" lengthAdjust="spacingAndGlyphs">Bloomberg</tspan> <tspan x="1223.14" textLength="56.56" lengthAdjust="spacingAndGlyphs">and</tspan> <tspan x="1287.75" textLength="77.16" lengthAdjust="spacingAndGlyphs">SuMi</tspan> <tspan x="1371.22" textLength="96.89" lengthAdjust="spacingAndGlyphs">TRUST</tspan> <tspan x="1473.07" textLength="42.34" lengthAdjust="spacingAndGlyphs">(as</tspan> <tspan x="1524.47" textLength="27.76" lengthAdjust="spacingAndGlyphs">of</tspan> <tspan x="1562.78" textLength="114.32" lengthAdjust="spacingAndGlyphs">January</tspan> <tspan x="1685.59" textLength="87.32" lengthAdjust="spacingAndGlyphs">2022)</tspan></text>
</svg>
</body></html>
